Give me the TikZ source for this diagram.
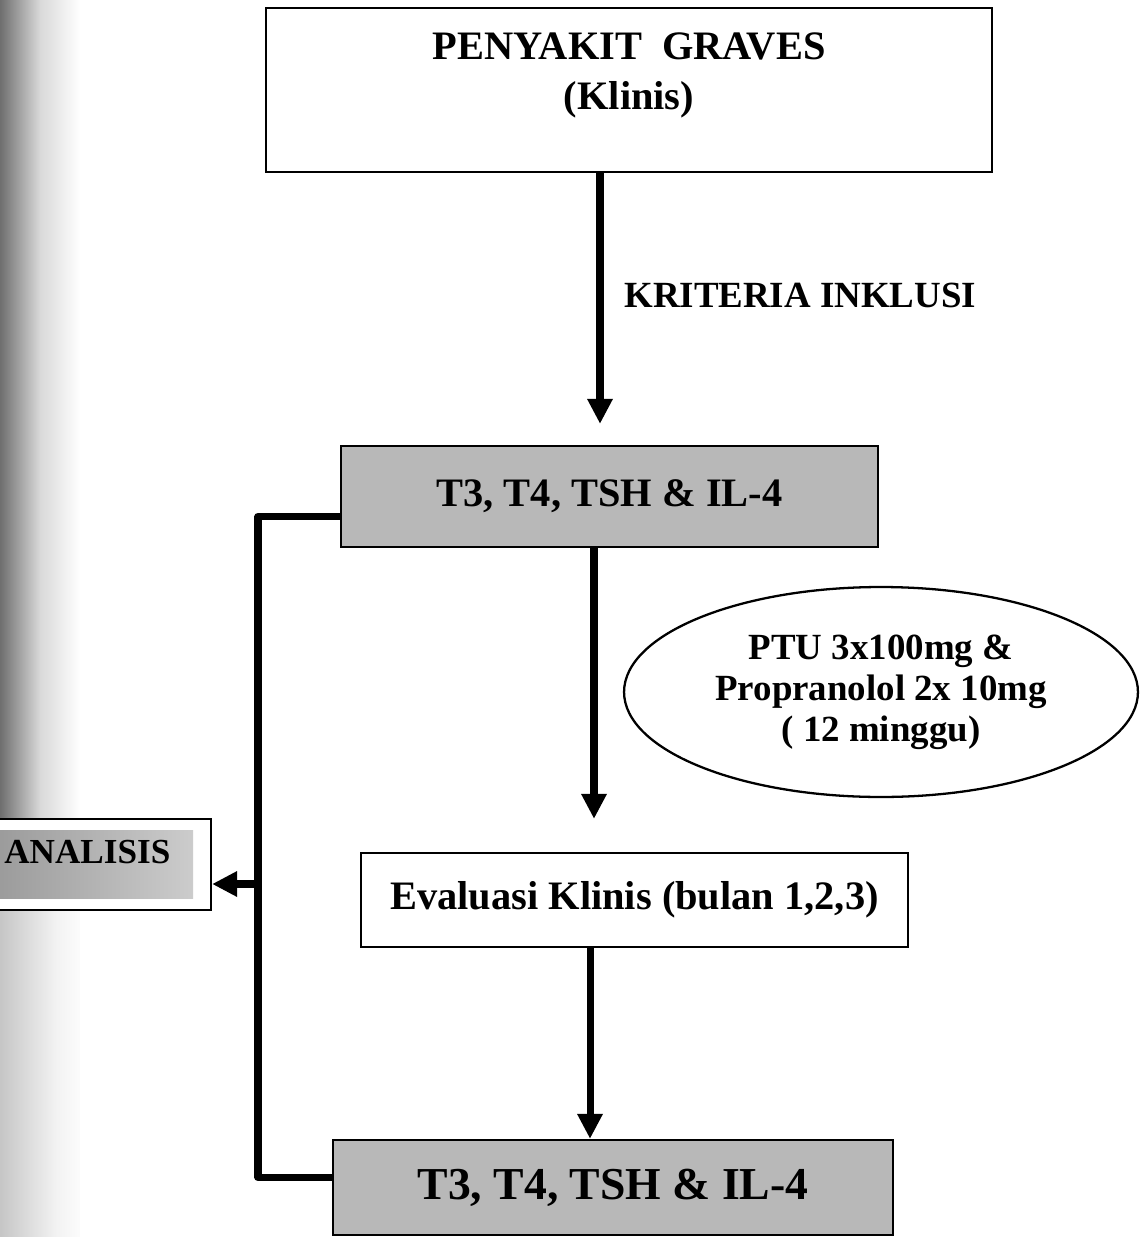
\documentclass[tikz,border=0pt]{standalone}
\usepackage{fontspec}
\setmainfont{Liberation Serif}
\usepackage{tikz}
\usetikzlibrary{shapes,calc,positioning,arrows.meta}
\pgfdeclarehorizontalshading{bayangGelap}{100bp}{color(0bp)=(black!90); color(20bp)=(black!65);
    color(50bp)=(black!15); color(75bp)=(white); color(100bp)=(white)}
\pgfdeclarehorizontalshading{bayangTerang}{100bp}{color(0bp)=(black!35); color(30bp)=(black!20);
    color(60bp)=(black!5); color(80bp)=(white); color(100bp)=(white)}

\begin{document}
\begin{tikzpicture}[x=0.02cm,y=-0.02cm,
    kotak/.style={draw=black,line width=1.3pt,fill=white,inner sep=0pt},
    abu/.style={kotak,fill=black!28},
    teks/.style={font=\bfseries\fontsize{#1}{#1}\selectfont},
    panah/.style={line width=4pt,-{Triangle[length=0.5cm,width=0.48cm]}}]
    \useasboundingbox (0,0) rectangle (1144,1237);
    \clip (0,0) rectangle (1144,1237);
    % bayangan pinggir scan
    \shade[shading=bayangGelap] (0,0) rectangle (80,820);
    \shade[shading=bayangTerang] (0,820) rectangle (80,1237);

    \node[kotak,minimum width=14.52cm,minimum height=3.28cm] (Graves) at (629,90) {};
    \node[align=center,font=\bfseries\fontsize{23}{28.5}\selectfont] (GravesTeks) at (629,75)
        {PENYAKIT\ \ GRAVES\\(Klinis)};
    \node[abu,teks=23,minimum width=10.74cm,minimum height=2.02cm] (LabAwal) at (609.5,496.5)
        {T3, T4, TSH \& IL-4};
    \node[ellipse,draw=black,line width=1.3pt,inner sep=0pt,minimum width=10.28cm,minimum height=4.2cm,
        align=center,font=\bfseries\fontsize{21}{23.3}\selectfont] (Obat) at (881,692)
        {PTU 3x100mg \&\\Propranolol 2x 10mg\\( 12 minggu)};
    \node[kotak,teks=23,minimum width=10.94cm,minimum height=1.88cm] (Evaluasi) at (634.5,900)
        {Evaluasi Klinis (bulan 1,2,3)};
    \node[abu,teks=26,minimum width=11.2cm,minimum height=1.9cm] (LabAkhir) at (613,1187.5)
        {T3, T4, TSH \& IL-4};

    % kotak analisis (terpotong di kiri)
    \node[kotak,minimum width=5.02cm,minimum height=1.82cm] (Analisis) at (85.5,864.5) {};
    \shade[left color=black!40,right color=black!20] (-10,830) rectangle (193,898);
    \node[teks=20,anchor=west,inner sep=0pt] (AnalisisTeks) at (4,852) {ANALISIS};

    \draw[panah,shorten >=0.42cm] ([xshift=-0.58cm]Graves.south)
        -- ([xshift=-0.58cm]Graves.south |- LabAwal.north)
        node[pos=0.45,right=0.3cm,teks=21] (Kriteria) {KRITERIA INKLUSI};
    \draw[panah,shorten >=0.66cm] ([xshift=-0.31cm]LabAwal.south)
        -- ([xshift=-0.31cm]LabAwal.south |- Evaluasi.north);
    \draw[panah] ([xshift=-0.89cm]Evaluasi.south)
        -- ([xshift=-0.89cm]Evaluasi.south |- LabAkhir.north);

    \coordinate (Simpang) at (258,884);
    \draw[line width=4pt,line join=round] ([yshift=-0.4cm]LabAwal.west) -| (Simpang)
        |- ([yshift=0.2cm]LabAkhir.west);
    \draw[panah] (Simpang) -- (Simpang -| Analisis.east);
\end{tikzpicture}
\end{document}
